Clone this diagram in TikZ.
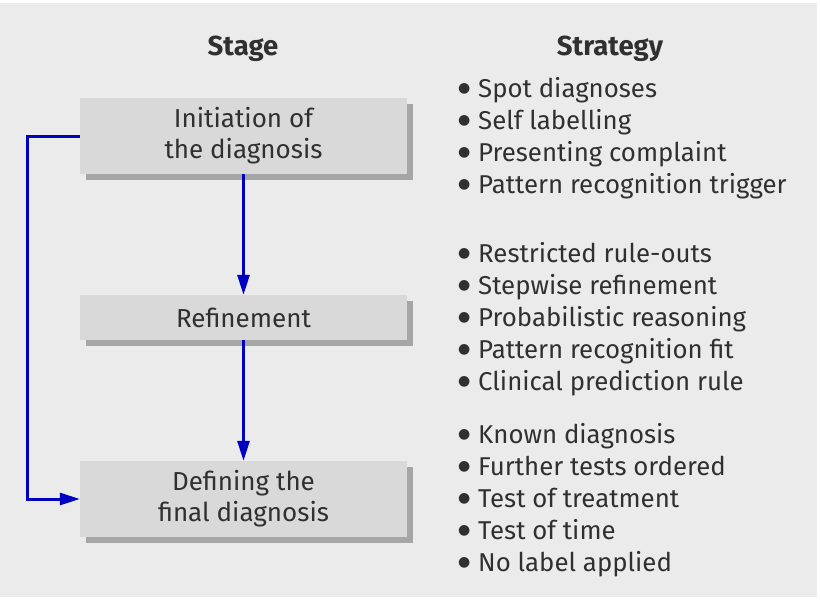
\documentclass[tikz,border=0pt]{standalone}
\usepackage{fontspec}
\setmainfont{Fira Sans}
\newfontfamily\dotfont{DejaVu Sans}
\usepackage{xcolor}
\usepackage{tikz}
\usetikzlibrary{arrows.meta,positioning,shadows}
\definecolor{bgcol}{HTML}{EBEBEB}
\definecolor{boxcol}{HTML}{D9D9D9}
\definecolor{shadecol}{HTML}{A6A6A6}
\definecolor{txtcol}{HTML}{303030}
\definecolor{flowcol}{HTML}{0000C0}
\newcommand{\bul}{\makebox[20pt][l]{\raisebox{4.5pt}{\dotfont\fontsize{14}{14}\selectfont ●}}}

\begin{document}
\begin{tikzpicture}[x=1pt, y=-1pt,
  stagebox/.style={fill=boxcol, minimum width=327pt, align=center,
              text=txtcol, font=\fontsize{26}{31}\selectfont,
              drop shadow={shadow xshift=6pt, shadow yshift=-6pt,
                           fill=shadecol, opacity=1}},
  head/.style={anchor=base, text=txtcol, font=\fontsize{27.5}{30}\selectfont\bfseries},
  item/.style={anchor=base west, inner sep=0pt, text=txtcol,
               text height=19pt, text depth=6pt,
               font=\fontsize{25.8}{32}\selectfont},
  arr/.style={-{Triangle[length=20pt, width=12pt]}, line width=3pt, flowcol}
]
  % Background
  \useasboundingbox (0,0) rectangle (820,600);
  \fill[white] (0,0) rectangle (820,600);
  \fill[bgcol] (0,3) rectangle (817,597);

  % Headings
  \node[head] (stage) at (243,55) {Stage};
  \node[head] (strategy) at (610,55) {Strategy};

  % Stages
  \node[stagebox, minimum height=76pt] (init) at (243.5,136) {Initiation of\\the diagnosis};
  \node[stagebox, minimum height=45pt] (refine) at (243.5,317.5) {Refinement};
  \node[stagebox, minimum height=76pt] (final) at (243.5,499) {Defining the\\final diagnosis};

  % Strategies
  \foreach \t [count=\i] in {Spot diagnoses, Self labelling, Presenting complaint,
      Pattern recognition trigger}
    \node[item] (sa-\i) at (458,{97+32*(\i-1)}) {\bul\t};
  \foreach \t [count=\i] in {Restricted rule-outs, Stepwise refinement,
      Probabilistic reasoning, Pattern recognition fit, Clinical prediction rule}
    \node[item] (sb-\i) at (458,{262+32*(\i-1)}) {\bul\t};
  \foreach \t [count=\i] in {Known diagnosis, Further tests ordered,
      Test of treatment, Test of time, No label applied}
    \node[item] (sc-\i) at (458,{443+32*(\i-1)}) {\bul\t};

  % Arrows
  \draw[arr] (init) -- (refine);
  \draw[arr] (refine) -- (final);
  \draw[arr] (init.west) -- ++(-52,0) |- (final.west);
\end{tikzpicture}
\end{document}
